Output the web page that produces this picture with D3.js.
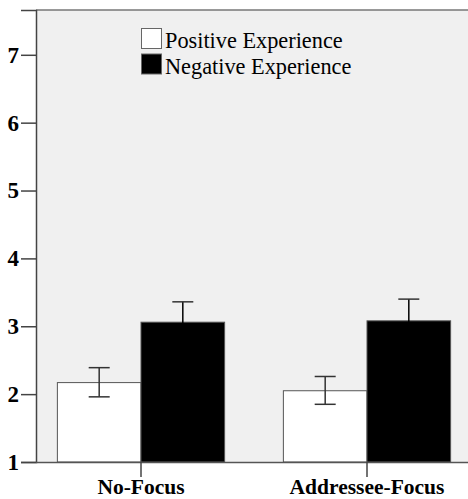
<!DOCTYPE html>
<html>
<head>
<meta charset="utf-8">
<script src="https://cdn.jsdelivr.net/npm/d3@7"></script>
<style>
    body { margin: 0; background: #fff; }
    svg { display: block; font-family: "Liberation Serif", "Times New Roman", serif; }
    .tick-lbl { font-size: 23px; font-weight: bold; fill: #000; }
    .cat-lbl { font-size: 21.5px; font-weight: bold; fill: #000; }
    .legend-lbl { font-size: 22.3px; fill: #000; }
</style>
</head>
<body>
<div id="chart"></div>
<script>
// DATA
const categories = ["No-Focus", "Addressee-Focus"];
const seriesNames = ["Positive Experience", "Negative Experience"];
const seriesColors = ["#ffffff", "#000000"];
const positiveMean = [2.17, 2.05];
const positiveLow = [1.96, 1.85];
const positiveHigh = [2.39, 2.26];
const negativeMean = [3.06, 3.08];
const negativeLow = [2.76, 2.76];
const negativeHigh = [3.36, 3.40];
const yTicks = [1, 2, 3, 4, 5, 6, 7];

const W = 468, H = 499;
const plot = { left: 36, top: 10, bottom: 462 };

// build rows the scales can use
const rows = [];
categories.forEach((c, i) => {
    rows.push({ cat: c, series: 0, mean: positiveMean[i], lo: positiveLow[i], hi: positiveHigh[i] });
    rows.push({ cat: c, series: 1, mean: negativeMean[i], lo: negativeLow[i], hi: negativeHigh[i] });
});

const svg = d3.select("#chart").append("svg").attr("width", W).attr("height", H);

const y = d3.scaleLinear().domain([1, 7.66]).range([plot.bottom, plot.top]);
const x = d3.scaleBand().domain(categories).range([28, 480]).paddingInner(0.26).paddingOuter(0.13);
const xs = d3.scaleBand().domain([0, 1]).range([0, x.bandwidth()]);

// plot background + top frame
svg.append("rect")
    .attr("x", plot.left).attr("y", plot.top)
    .attr("width", W - plot.left + 5).attr("height", plot.bottom - plot.top)
    .attr("fill", "#f0f0f0");
svg.append("line")
    .attr("x1", plot.left).attr("x2", W).attr("y1", plot.top).attr("y2", plot.top)
    .attr("stroke", "#777").attr("stroke-width", 1.5);

// BARS
svg.append("g").selectAll("rect").data(rows).enter().append("rect")
    .attr("x", d => x(d.cat) + xs(d.series))
    .attr("y", d => y(d.mean))
    .attr("width", xs.bandwidth())
    .attr("height", d => y(1) - y(d.mean))
    .attr("fill", d => seriesColors[d.series])
    .attr("stroke", "#555").attr("stroke-width", 1);

// ERROR BARS
const cap = 10.5;
const eb = svg.append("g").attr("stroke", "#333").attr("stroke-width", 1.5);
rows.forEach(d => {
    const cx = x(d.cat) + xs(d.series) + xs.bandwidth() / 2;
    const stroke = d.series === 1 ? "#000" : "#333";
    eb.append("line").attr("x1", cx).attr("x2", cx).attr("y1", y(d.hi)).attr("y2", y(d.lo)).attr("stroke", stroke);
    eb.append("line").attr("x1", cx - cap).attr("x2", cx + cap).attr("y1", y(d.hi)).attr("y2", y(d.hi));
    eb.append("line").attr("x1", cx - cap).attr("x2", cx + cap).attr("y1", y(d.lo)).attr("y2", y(d.lo)).attr("stroke", stroke);
});

// Y AXIS
const yAxis = svg.append("g")
    .attr("transform", `translate(${plot.left},0)`)
    .call(d3.axisLeft(y).tickValues(yTicks).tickFormat(d3.format("d")).tickSize(15).tickPadding(2))
    .attr("font-family", null).attr("font-size", null);
yAxis.select(".domain").attr("stroke", "#444").attr("stroke-width", 1.5);
yAxis.selectAll(".tick line").attr("stroke", "#444").attr("stroke-width", 1.5);
yAxis.selectAll(".tick text").attr("class", "tick-lbl");

// X AXIS
const xAxis = svg.append("g")
    .attr("transform", `translate(0,${plot.bottom})`)
    .call(d3.axisBottom(x).tickSize(15).tickSizeOuter(0).tickPadding(5))
    .attr("font-family", null).attr("font-size", null);
xAxis.select(".domain").attr("d", `M${plot.left},0.5H${W}`).attr("stroke", "#555").attr("stroke-width", 1.5);
xAxis.selectAll(".tick line").attr("stroke", "#444").attr("stroke-width", 1.5);
xAxis.selectAll(".tick text").attr("class", "cat-lbl").attr("dy", null).attr("y", 31.5);

// LEGEND
const legend = svg.append("g").attr("transform", "translate(141,28)");
seriesNames.forEach((name, i) => {
    const row = legend.append("g").attr("transform", `translate(0,${i * 25.5})`);
    row.append("rect").attr("x", 0.5).attr("y", 0.5).attr("width", 20).attr("height", 20)
        .attr("fill", seriesColors[i]).attr("stroke", "#666").attr("stroke-width", 1);
    row.append("text").attr("class", "legend-lbl").attr("x", 24).attr("y", 20).text(name);
});
</script>
</body>
</html>
